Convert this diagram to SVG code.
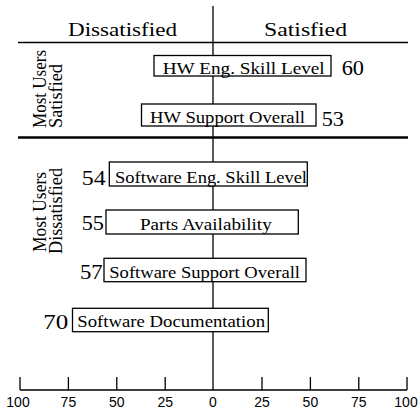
<svg xmlns="http://www.w3.org/2000/svg" width="420" height="420" viewBox="0 0 420 420">
<style>
.box{fill:#fff;stroke:#000;stroke-width:1.3}
.lbl{font-family:"Liberation Serif","Times New Roman",serif;font-size:17.5px;fill:#000}
.num{font-family:"Liberation Serif","Times New Roman",serif;font-size:20px;fill:#000}
.hdr{font-family:"Liberation Serif","Times New Roman",serif;font-size:19.5px;fill:#000}
.side{font-family:"Liberation Serif","Times New Roman",serif;font-size:18.5px;fill:#000}
.ax{font-family:"Liberation Sans",Arial,sans-serif;font-size:14px;fill:#000;text-anchor:middle}
.ln{stroke:#000;fill:none}
</style>
<rect width="420" height="420" fill="#fff"/>
<g id="connectors">
<line class="ln" x1="213" y1="6" x2="213" y2="390" stroke-width="1.3"/>
<line class="ln" x1="18" y1="42.5" x2="408" y2="42.5" stroke-width="1.6"/>
<line class="ln" x1="18" y1="137.5" x2="408" y2="137.5" stroke-width="2.6"/>
</g>
<g id="headers">
<text class="hdr" x="68" y="36" textLength="109" lengthAdjust="spacingAndGlyphs">Dissatisfied</text>
<text class="hdr" x="264" y="36" textLength="83" lengthAdjust="spacingAndGlyphs">Satisfied</text>
</g>
<g id="label-satisfied">
<text class="side" transform="translate(45.5,128) rotate(-90)" textLength="78" lengthAdjust="spacingAndGlyphs">Most Users</text>
<text class="side" transform="translate(62,128) rotate(-90)" textLength="64" lengthAdjust="spacingAndGlyphs">Satisfied</text>
</g>
<g id="label-dissatisfied">
<text class="side" transform="translate(45.5,252) rotate(-90)" textLength="80" lengthAdjust="spacingAndGlyphs">Most Users</text>
<text class="side" transform="translate(62,254) rotate(-90)" textLength="86" lengthAdjust="spacingAndGlyphs">Dissatisfied</text>
</g>
<g id="hw-eng">
<rect class="box" x="154" y="55.5" width="177" height="20.5"/>
<text class="lbl" x="162.7" y="73.5" textLength="162" lengthAdjust="spacingAndGlyphs">HW Eng. Skill Level</text>
<text class="num" x="341.7" y="75" textLength="22.3" lengthAdjust="spacingAndGlyphs">60</text>
</g>
<g id="hw-support">
<rect class="box" x="141.5" y="104" width="174.5" height="22"/>
<text class="lbl" x="150" y="123" textLength="155" lengthAdjust="spacingAndGlyphs">HW Support Overall</text>
<text class="num" x="321.7" y="125.5" textLength="22.3" lengthAdjust="spacingAndGlyphs">53</text>
</g>
<g id="sw-eng">
<rect class="box" x="109.3" y="162" width="198" height="24"/>
<text class="lbl" x="115" y="183" textLength="192" lengthAdjust="spacingAndGlyphs">Software Eng. Skill Level</text>
<text class="num" x="81.7" y="184.5" textLength="24" lengthAdjust="spacingAndGlyphs">54</text>
</g>
<g id="parts">
<rect class="box" x="106" y="210" width="192.3" height="24"/>
<text class="lbl" x="140" y="230" textLength="131.7" lengthAdjust="spacingAndGlyphs">Parts Availability</text>
<text class="num" x="81.7" y="229.5" textLength="22.3" lengthAdjust="spacingAndGlyphs">55</text>
</g>
<g id="sw-support">
<rect class="box" x="104" y="258.3" width="202" height="23.4"/>
<text class="lbl" x="109.3" y="277.5" textLength="190.7" lengthAdjust="spacingAndGlyphs">Software Support Overall</text>
<text class="num" x="80" y="279" textLength="22.7" lengthAdjust="spacingAndGlyphs">57</text>
</g>
<g id="sw-doc">
<rect class="box" x="72.5" y="308.3" width="195.8" height="23.4"/>
<text class="lbl" x="77.3" y="327" textLength="187.7" lengthAdjust="spacingAndGlyphs">Software Documentation</text>
<text class="num" x="43.3" y="328.5" textLength="25" lengthAdjust="spacingAndGlyphs">70</text>
</g>
<g id="axis">
<path class="ln" stroke-width="1.3" d="M20,390 H407 M20,377 V390 M68.4,377 V390 M116.8,377 V390 M165.2,377 V390 M262,377 V390 M310.4,377 V390 M358.8,377 V390 M407,377 V390"/>
<text class="ax" x="18" y="407">100</text>
<text class="ax" x="68.4" y="407">75</text>
<text class="ax" x="116.8" y="407">50</text>
<text class="ax" x="165.2" y="407">25</text>
<text class="ax" x="213" y="407">0</text>
<text class="ax" x="262" y="407">25</text>
<text class="ax" x="310.4" y="407">50</text>
<text class="ax" x="358.8" y="407">75</text>
<text class="ax" x="406" y="407">100</text>
</g>
</svg>
